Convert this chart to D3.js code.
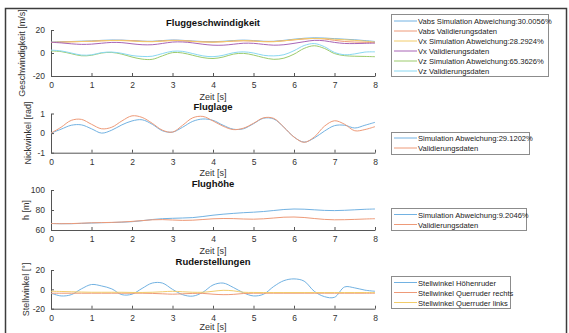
<!DOCTYPE html>
<html>
<head>
<meta charset="utf-8">
<script src="https://cdn.jsdelivr.net/npm/d3@7"></script>
<style>
  body { margin: 0; background: #fff; }
  svg { display: block; font-family: "Liberation Sans", Arial, sans-serif; }
  .tick text { fill: #333; }
</style>
</head>
<body>
<div id="chart"></div>
<script>
(function(){

  var width = 569, height = 333;

  // time samples [s]
  var zeit = [0, 0.25, 0.5, 0.75, 1, 1.25, 1.5, 1.75, 2, 2.25, 2.5, 2.75, 3, 3.25, 3.5, 3.75,
              4, 4.25, 4.5, 4.75, 5, 5.25, 5.5, 5.75, 6, 6.25, 6.5, 6.75, 7, 7.25, 7.5, 7.75, 8];
  var xTicks = [0, 1, 2, 3, 4, 5, 6, 7, 8];

  // Fluggeschwindigkeit [m/s]
  var vabsSim = [9.5, 9.8, 10, 10.3, 10.5, 11, 11.3, 11.2, 10.8, 10.3, 10.2, 10.8, 11.3, 11, 10.4, 10,
                 9.8, 10.2, 10.8, 11.2, 10.8, 10.2, 10.2, 11, 12, 12.8, 13.2, 13, 12.5, 12, 11.5, 10.8, 10];
  var vabsVal = [9.2, 9.5, 9.8, 10, 10.2, 10.6, 10.9, 11, 10.7, 10.2, 10, 10.5, 11, 10.8, 10.2, 9.7,
                 9.5, 9.8, 10.3, 10.6, 10.4, 10, 10, 10.6, 11.4, 12.2, 12.6, 12.2, 11, 10, 9.5, 9.3, 9];
  var vxSim = [9.2, 9.5, 9.7, 10, 10.2, 10.6, 10.9, 10.8, 10.4, 9.9, 9.8, 10.3, 10.8, 10.6, 10, 9.6,
               9.4, 9.8, 10.4, 10.8, 10.4, 9.8, 9.8, 10.6, 11.6, 12.4, 12.7, 12.5, 12, 11.5, 11, 10.3, 9.5];
  var vxVal = [9.3, 8.8, 8, 7.5, 7.7, 8.5, 9.2, 9, 8, 7.2, 7.2, 8.3, 9.5, 9.6, 8.8, 7.6,
               6.8, 6.8, 7.6, 8.5, 8.4, 7.5, 6.8, 7.2, 8.4, 9.8, 11, 10.6, 9.2, 8.3, 8.2, 8.4, 8.6];
  var vzSim = [1.8, 1.2, -0.6, -2.4, -2, 0, 0.5, -1, -3.5, -5.3, -5.5, -2.5, 0.3, 0, -2, -4,
               -4.8, -3.5, -1, -0.3, -1.8, -4, -5.5, -4.5, -1, 4, 6.3, 4, -0.5, -2.3, -2.8, -3, -3.2];
  var vzVal = [2.5, 1.8, 0, -1.8, -1.6, 0.3, 0.8, -0.3, -2.2, -3, -2.8, -0.5, 1.5, 1.4, -0.5, -2.5,
               -3.2, -2, 0.2, 1, 0, -2, -2.5, -1.5, 2, 6.5, 8.2, 5.5, 0.5, -1.5, -0.8, 0.8, 1];

  // Fluglage: Nickwinkel [rad]
  var nickSim = [0, 0.2, 0.4, 0.42, 0.22, 0, 0.15, 0.42, 0.62, 0.68, 0.45, 0.12, 0.05, 0.3, 0.6, 0.72,
                 0.65, 0.4, 0.2, 0.22, 0.48, 0.76, 0.72, 0.3, -0.2, -0.46, -0.25, 0.1, 0.38, 0.4, 0.26, 0.4, 0.55];
  var nickVal = [0, 0.3, 0.65, 0.7, 0.45, 0.22, 0.3, 0.62, 0.88, 0.8, 0.5, 0.15, 0.05, 0.4, 0.78, 0.85,
                 0.62, 0.35, 0.18, 0.25, 0.5, 0.78, 0.75, 0.3, -0.2, -0.47, -0.2, 0.35, 0.63, 0.45, 0.12, 0.18, 0.33];

  // Flughoehe [m]
  var hSim = [66.5, 66.3, 66.3, 66.6, 67, 67.3, 67.5, 67.8, 68.3, 69.3, 70.5, 71.3, 71.7, 72, 72.4, 73.5,
              74.8, 75.8, 76.6, 77.3, 77.8, 78.5, 79.5, 80.5, 81, 80.8, 80.2, 79.6, 79.4, 79.7, 80.2, 80.7, 81];
  var hVal = [66.5, 66.3, 66.4, 66.8, 67.2, 67.4, 67.6, 68, 68.6, 69.4, 70.2, 70.4, 70, 69.6, 69.8, 70.5,
              71.2, 71.5, 71.4, 71, 70.8, 71.2, 72, 72.8, 73, 72.5, 71.5, 70.6, 70.2, 70.3, 70.6, 71, 71.3];

  // Ruderstellungen [deg]
  var hoehenruder = [-4, -6.8, -5.5, 0.5, 5, 3.5, 0.5, -5.5, -5, 1, 6.5, 6.5, 0, -5.5, -7, -3,
                     4.5, 6.5, 2, -3.5, -6.8, -5, 3, 9, 10.8, 8.5, -2, -7.5, -8.2, 2.5, 1.5, -0.8, -2];
  var querRechts = [-4, -4, -4, -4, -4, -4, -4, -4, -4, -4, -4.2, -4.6, -5, -4.6, -4.2, -4.2,
                    -5, -5.5, -5.2, -4.3, -4, -4, -4, -4, -4, -4, -4, -4, -4, -4, -4, -4, -4];
  var querLinks = [-2, -2.2, -2.5, -2.8, -3, -3, -3, -3, -3.2, -3.2, -3, -2.5, -2, -2.5, -3, -3,
                   -2, -1, -1.5, -3, -3.2, -3.3, -3.3, -3.3, -3.3, -3.3, -3.3, -3.3, -3.3, -3.3, -3.3, -3.3, -3.3];

  var cBlue = "#72b2e2", cOrange = "#ee9a78", cYellow = "#f2cc6a",
      cPurple = "#a865b6", cGreen = "#9ccb6c", cCyan = "#8ad8f2";

  var panels = [
    { title: "Fluggeschwindigkeit", ylabel: "Geschwindigkeit [m/s]", top: 30, bottom: 76,
      domain: [-20, 20], yTicks: [-20, 0, 20], ylabelX: 25, titleY: 26, xlabelY: 100,
      legend: { x: 391, y: 14, w: 157, row0: 21 },
      series: [
        { name: "Vabs Simulation Abweichung:30.0056%", values: vabsSim, color: cBlue },
        { name: "Vabs Validierungsdaten", values: vabsVal, color: cOrange },
        { name: "Vx Simulation Abweichung:28.2924%", values: vxSim, color: cYellow },
        { name: "Vx Validierungsdaten", values: vxVal, color: cPurple },
        { name: "Vz Simulation Abweichung:65.3626%", values: vzSim, color: cGreen },
        { name: "Vz Validierungsdaten", values: vzVal, color: cCyan }
      ] },
    { title: "Fluglage", ylabel: "Nickwinkel [rad]", top: 113.5, bottom: 152.7,
      domain: [-1, 1], yTicks: [-1, 0, 1], ylabelX: 31, titleY: 110, xlabelY: 176,
      legend: { x: 391, y: 132, w: 138, row0: 138 },
      series: [
        { name: "Simulation Abweichung:29.1202%", values: nickSim, color: cBlue },
        { name: "Validierungsdaten", values: nickVal, color: cOrange }
      ] },
    { title: "Flugh\u00f6he", ylabel: "h [m]", top: 190, bottom: 230,
      domain: [60, 100], yTicks: [60, 80, 100], ylabelX: 29, titleY: 187, xlabelY: 254,
      legend: { x: 391, y: 208, w: 135, row0: 214.5 },
      series: [
        { name: "Simulation Abweichung:9.2046%", values: hSim, color: cBlue },
        { name: "Validierungsdaten", values: hVal, color: cOrange }
      ] },
    { title: "Ruderstellungen", ylabel: "Stellwinkel [\u00b0]", top: 270, bottom: 308.7,
      domain: [-20, 20], yTicks: [-20, 0, 20], ylabelX: 29, titleY: 265, xlabelY: 330,
      legend: { x: 391, y: 276, w: 119, row0: 282.5 },
      series: [
        { name: "Stellwinkel H\u00f6henruder", values: hoehenruder, color: cBlue },
        { name: "Stellwinkel Querruder rechts", values: querRechts, color: cOrange },
        { name: "Stellwinkel Querruder links", values: querLinks, color: cYellow }
      ] }
  ];

  var svg = d3.select("#chart").append("svg")
      .attr("width", width)
      .attr("height", height);

  // figure frame
  svg.append("rect")
      .attr("x", 5.5).attr("y", 8.5)
      .attr("width", 561).attr("height", 340)
      .attr("fill", "none")
      .attr("stroke", "#3c3c3c")
      .attr("stroke-width", 1.5);

  var x = d3.scaleLinear().domain([0, 8]).range([51, 375]);
  var plain = function(d){ return String(d); };

  panels.forEach(function(p){

    var y = d3.scaleLinear().domain(p.domain).range([p.bottom, p.top]);
    var g = svg.append("g");

    var line = d3.line()
        .x(function(d, i){ return x(zeit[i]); })
        .y(function(d){ return y(d); })
        .curve(d3.curveCatmullRom.alpha(0.5));

    // axes (MATLAB style, ticks inward, no box)
    var xAxis = g.append("g")
        .attr("transform", "translate(0," + p.bottom + ")")
        .call(d3.axisBottom(x).tickValues(xTicks).tickFormat(plain)
              .tickSize(-3).tickPadding(6).tickSizeOuter(0));
    var yAxis = g.append("g")
        .attr("transform", "translate(51,0)")
        .call(d3.axisLeft(y).tickValues(p.yTicks).tickFormat(plain)
              .tickSize(-3).tickPadding(6).tickSizeOuter(0));

    [xAxis, yAxis].forEach(function(a){
      a.select(".domain").attr("stroke", "#555");
      a.selectAll(".tick line").attr("stroke", "#555");
      a.selectAll(".tick text").attr("font-size", 8.5).attr("fill", "#333");
    });

    p.series.forEach(function(s){
      g.append("path")
          .datum(s.values)
          .attr("d", line)
          .attr("fill", "none")
          .attr("stroke", s.color)
          .attr("stroke-width", 1);
    });

    g.append("text")
        .attr("x", 213).attr("y", p.titleY)
        .attr("text-anchor", "middle")
        .attr("font-size", 9.5)
        .attr("font-weight", "bold")
        .attr("fill", "#111")
        .text(p.title);

    g.append("text")
        .attr("x", 213).attr("y", p.xlabelY)
        .attr("text-anchor", "middle")
        .attr("font-size", 9)
        .attr("fill", "#333")
        .text("Zeit [s]");

    g.append("text")
        .attr("transform", "translate(" + p.ylabelX + "," + ((p.top + p.bottom) / 2) + ") rotate(-90)")
        .attr("text-anchor", "middle")
        .attr("font-size", 9)
        .attr("fill", "#333")
        .text(p.ylabel);

    // legend
    var L = p.legend;
    var rows = p.series.length;
    var lg = svg.append("g");
    lg.append("rect")
        .attr("x", L.x + 0.5).attr("y", L.y + 0.5)
        .attr("width", L.w).attr("height", rows * 10 + 2)
        .attr("fill", "#fff")
        .attr("stroke", "#8c8c8c")
        .attr("stroke-width", 1);

    p.series.forEach(function(s, i){
      var ry = L.row0 + i * 10;
      lg.append("line")
          .attr("x1", L.x + 3).attr("x2", L.x + 26)
          .attr("y1", ry).attr("y2", ry)
          .attr("stroke", s.color)
          .attr("stroke-width", 1);
      lg.append("text")
          .attr("x", L.x + 27).attr("y", ry + 3)
          .attr("font-size", 7.6)
          .attr("fill", "#222")
          .text(s.name);
    });

  });

})();
</script>
</body>
</html>
